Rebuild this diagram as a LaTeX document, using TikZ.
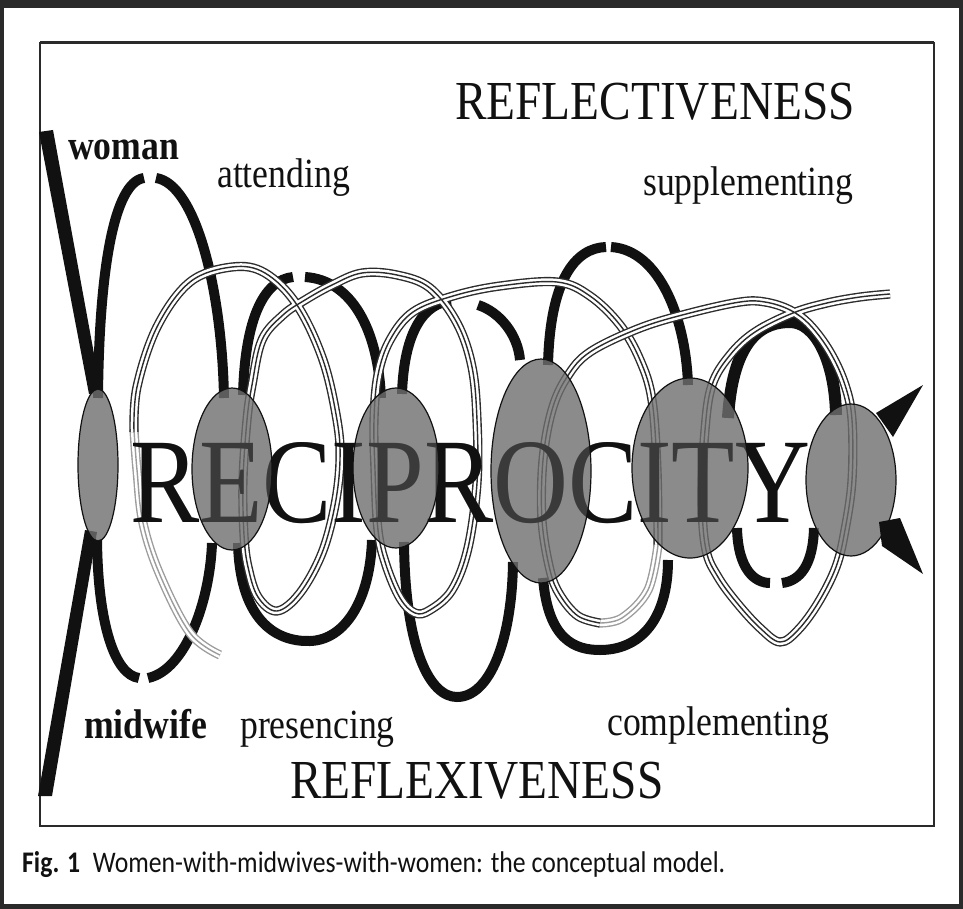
\documentclass[tikz,border=0pt]{standalone}
\usepackage{fontspec}
\setmainfont{Liberation Serif}
\newfontfamily\capfont{Carlito}
\usepackage{graphicx}
\definecolor{framec}{HTML}{2A2A2A}
\definecolor{tubec}{HTML}{2C2C2C}
\definecolor{tubelight}{HTML}{9C9C9C}
\definecolor{ellfill}{HTML}{6F6F6F}
\definecolor{inkc}{HTML}{111111}
\newcommand\cond[1]{\scalebox{0.86}[1]{#1}}
\newcommand\recipword{\resizebox{680pt}{80pt}{\fontsize{120}{120}\selectfont RECIPROCITY}}
\newcommand\tubedraw[2]{%
  \draw[line width=1.4pt, draw=#1, double=white, double distance=6.4pt, line join=round] #2;
  \draw[line width=1.4pt, draw=#1, line join=round] #2;}
\tikzset{
  blk/.style={line width=10pt, draw=inkc},
  lbl/.style={inner sep=0pt, text=inkc, font=\fontsize{41.5}{41.5}\selectfont},
  lblb/.style={inner sep=0pt, text=inkc, font=\bfseries\fontsize{41.5}{41.5}\selectfont},
  big/.style={inner sep=0pt, text=inkc, font=\fontsize{55}{55}\selectfont},
  blob/.style={ellipse, draw=inkc, line width=1.2pt, fill=ellfill, fill opacity=0.8, inner sep=0pt},
  arrowhead/.style={fill=inkc, draw=none}
}
\usetikzlibrary{shapes.geometric}
\begin{document}
\begin{tikzpicture}[x=1pt,y=-1pt]
\useasboundingbox (0,0) rectangle (963,909);
\fill[white] (0,0) rectangle (963,909);
% outer border
\fill[framec] (0,0) rectangle (963,8);
\fill[framec] (0,0) rectangle (4,909);
\fill[framec] (959,0) rectangle (963,909);
\fill[framec] (0,904) rectangle (963,909);
% inner frame
\draw[framec, line width=2pt] (40,43) rectangle (934,826);
\draw[framec, line width=3pt] (40,43) -- (934,43);

% crossing lines at the left
\fill[inkc] (39,132) -- (53,130) -- (101,392) -- (89,394) -- cycle;
\fill[inkc] (85,530) -- (97,532) -- (52,796) -- (38,796) -- cycle;

% black strands
\draw[blk] (98,398) .. controls (99,270) and (114,182) .. (144,178);
\draw[blk] (156,178) .. controls (196,184) and (222,290) .. (224,398);
\draw[blk] (97,540) .. controls (98,625) and (115,675) .. (139,678);
\draw[blk] (148,678) .. controls (186,670) and (210,600) .. (212,543);
\draw[blk] (243,395) .. controls (245,318) and (264,280) .. (293,277);
\draw[blk] (305,277) .. controls (352,280) and (378,330) .. (381,398);
\draw[blk] (238,543) .. controls (240,625) and (280,642) .. (310,641) .. controls (345,640) and (370,600) .. (372,540);
\draw[blk] (402,394) .. controls (404,330) and (425,303) .. (451,301);
\draw[blk] (478,305) .. controls (500,312) and (518,335) .. (520,360);
\draw[blk] (404,542) .. controls (405,650) and (430,697) .. (457,697) .. controls (490,697) and (512,640) .. (513,562);
\draw[blk] (548,365) .. controls (550,280) and (575,248) .. (606,247);
\draw[blk] (611,247) .. controls (660,250) and (686,320) .. (688,385);
\draw[blk] (543,578) .. controls (548,640) and (575,650) .. (600,650) .. controls (640,650) and (668,620) .. (668,560);
\draw[blk, line width=12pt] (728,418) .. controls (733,335) and (765,322) .. (790,322) .. controls (815,322) and (835,360) .. (836,415);
\draw[blk] (737,528) .. controls (738,570) and (755,583) .. (770,583);
\draw[blk] (782,583) .. controls (800,581) and (813,565) .. (814,528);

% tubes
\tubedraw{tubelight}{plot[smooth, tension=0.6] coordinates {(220,655) (190,633) (160,575) (143,523) (137,470) (134,430)}}
\tubedraw{tubec}{plot[smooth, tension=0.6] coordinates {(134,432) (137,387) (157,327) (190,282) (232,267) (265,273) (297,305) (323,360) (337,420) (340,460) (335,505) (322,553) (300,593) (277,611) (258,597) (248,567) (244,535) (243,480) (247,420) (252,385) (262,340) (283,315) (305,300) (332,285) (362,273) (397,275) (430,288) (457,323) (472,367) (477,420) (477,483) (468,548) (452,590) (430,610) (415,613) (400,598) (386,565) (378,530) (375,470) (374,420) (378,375) (390,340) (413,312) (453,296) (500,286) (557,282) (590,296) (620,325) (640,360) (652,400) (657,470) (658,547)}}
\tubedraw{tubelight}{plot[smooth, tension=0.6] coordinates {(658,545) (648,590) (622,618) (598,623)}}
\tubedraw{tubec}{plot[smooth, tension=0.6] coordinates {(600,623) (578,616) (560,595) (550,570) (542,520) (543,460) (552,410) (567,377) (590,352) (640,328) (690,313) (740,302) (765,302) (790,310) (810,325) (830,352) (845,385) (852,420) (852,480) (845,530) (836,567) (818,603) (798,630) (780,642) (760,628) (737,603) (718,577) (706,550) (702,500) (705,430) (712,385) (730,355) (755,332) (793,313) (827,303) (860,297) (890,294)}}

% central word
\node[inner sep=0pt, anchor=base west, text=inkc] (recip) at (130,522) {\recipword};

% shaded ellipses
\node[blob, minimum width=40pt, minimum height=152pt] (e1) at (98,465) {};
\node[blob, minimum width=80pt, minimum height=162pt] (e2) at (232,469) {};
\node[blob, minimum width=86pt, minimum height=160pt] (e3) at (396,468) {};
\node[blob, minimum width=100pt, minimum height=224pt] (e4) at (541,471) {};
\node[blob, minimum width=116pt, minimum height=180pt] (e5) at (690,468) {};
\node[blob, minimum width=90pt, minimum height=152pt] (e6) at (851,480) {};

% letters showing through the ellipses
\node[inner sep=0pt, anchor=base west, text=inkc, text opacity=0.45] (recipover) at (130,522) {\recipword};

% arrowheads
\fill[arrowhead] (876,413) -- (923,385) -- (893,437) -- cycle;
\fill[arrowhead] (879,522) -- (900,518) -- (923,574) -- (882,546) -- cycle;

% labels
\node[big, anchor=base west] (reflect) at (455,120) {\cond{REFLECTIVENESS}};
\node[big, anchor=base west] (reflex) at (290,798) {\cond{REFLEXIVENESS}};
\node[lblb, anchor=base west] (woman) at (68,160) {\cond{woman}};
\node[lbl, anchor=base west] (attending) at (217,188) {\cond{attending}};
\node[lbl, anchor=base west] (supp) at (643,196) {\cond{supplementing}};
\node[lblb, anchor=base west] (midwife) at (84,738) {\cond{midwife}};
\node[lbl, anchor=base west] (presencing) at (240,738) {\cond{presencing}};
\node[lbl, anchor=base west] (compl) at (607,735) {\cond{complementing}};

% caption
\node[inner sep=0pt, anchor=base west, text=inkc] (caption) at (22,872)
  {\resizebox{703pt}{21pt}{\capfont\fontsize{20}{20}\selectfont\textbf{Fig. 1}\enspace Women-with-midwives-with-women: the conceptual model.}};
\end{tikzpicture}
\end{document}
